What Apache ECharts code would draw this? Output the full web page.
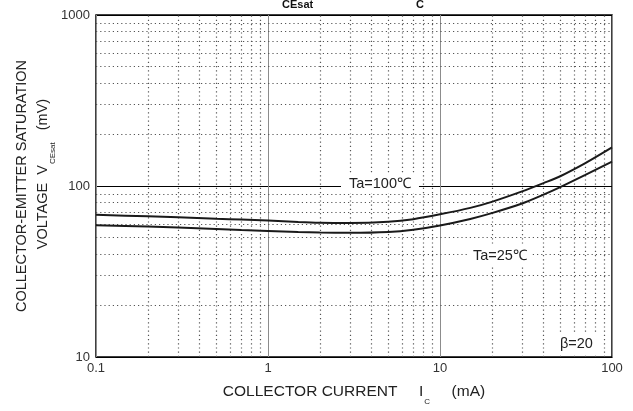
<!DOCTYPE html>
<html>
<head>
<meta charset="utf-8">
<script src="https://cdn.jsdelivr.net/npm/echarts@6/dist/echarts.min.js"></script>
<style>
  html, body { margin: 0; padding: 0; background: #fff; }
  #chart { width: 633px; height: 411px; }
</style>
</head>
<body>
<div id="chart"></div>
<script>
// Collector current (mA) sample points along both curves
const currentMA = [0.1, 0.2, 0.3, 0.5, 0.7, 1, 1.5, 2, 3, 5, 7, 10, 15, 20, 30, 40, 50, 70, 100];
// VCE(sat) in mV, Ta = 100 degC
const vceSat100 = [67.8, 66.5, 65.7, 64.4, 63.6, 62.8, 61.6, 61, 60.8, 61.8, 64, 68.3, 74.5, 80.8, 93, 104, 114, 136, 168];
// VCE(sat) in mV, Ta = 25 degC
const vceSat25 = [59, 57.9, 57.2, 56.1, 55.3, 54.6, 53.8, 53.4, 53.2, 53.8, 55.5, 58.8, 64.2, 69.4, 79, 89, 98.5, 116, 139];

// Decade tick labels
const xTickLabels = ['0.1', '1', '10', '100'];
const yTickLabels = ['10', '100', '1000'];

// Minor grid positions inside each decade
const minorCurrents = [0.2, 0.3, 0.4, 0.5, 0.6, 0.7, 0.8, 0.9, 2, 3, 4, 5, 6, 7, 8, 9, 20, 30, 40, 50, 60, 70, 80, 90];
const minorVoltages = [20, 30, 40, 50, 60, 70, 80, 90, 200, 300, 400, 500, 600, 700, 800, 900];

const FONT = '"Liberation Sans", Arial, Helvetica, sans-serif';

const chart = echarts.init(document.getElementById('chart'), null, { renderer: 'canvas' });

function pairs(ys) { return currentMA.map((x, i) => [x, ys[i]]); }

const subStyle = { fontSize: 8, fontFamily: FONT, color: '#222', fill: '#222', verticalAlign: 'bottom', lineHeight: 8, padding: [0, 0, -6, 1] };

const option = {
  animation: false,
  backgroundColor: '#fff',
  textStyle: { fontFamily: FONT },
  grid: {
    left: 96, right: 21, top: 15, bottom: 42,
    show: true, borderColor: '#000', borderWidth: 1.5, backgroundColor: 'transparent'
  },
  xAxis: {
    type: 'log', logBase: 10, min: 0.1, max: 100,
    axisLine: { show: false },
    axisTick: { show: false },
    axisLabel: {
      color: '#333', fontSize: 13, fontFamily: FONT, margin: 5,
      formatter: v => {
        const s = xTickLabels.find(t => Math.abs(parseFloat(t) - v) < 1e-9 * Math.max(1, v));
        return s || '';
      }
    },
    splitLine: { show: true, lineStyle: { color: '#8c8c8c', width: 1 } },
    name: 'COLLECTOR CURRENT     I{sub|C}     (mA)',
    nameLocation: 'middle', nameGap: 27,
    nameTextStyle: {
      color: '#222', fontSize: 15.5, fontFamily: FONT,
      rich: { sub: subStyle }
    }
  },
  yAxis: {
    type: 'log', logBase: 10, min: 10, max: 1000,
    axisLine: { show: false },
    axisTick: { show: false },
    axisLabel: {
      color: '#333', fontSize: 13, fontFamily: FONT, margin: 6,
      formatter: v => {
        const s = yTickLabels.find(t => Math.abs(parseFloat(t) - v) < 1e-9 * v);
        return s || '';
      }
    },
    splitLine: { show: true, lineStyle: { color: '#000', width: 1 } }
  },
  series: [
    {
      // minor (2..9) grid inside every decade
      type: 'line',
      data: [[0.1, 10]],
      showSymbol: false,
      silent: true,
      lineStyle: { opacity: 0 },
      z: 1,
      markLine: {
        silent: true,
        symbol: ['none', 'none'],
        label: { show: false },
        animation: false,
        data: [
          ...minorCurrents.map(v => ({ xAxis: v, lineStyle: { type: [1.2, 3], color: '#555', width: 1.2 } })),
          ...minorVoltages.map(v => ({ yAxis: v, lineStyle: { type: [1.2, 3], color: '#555', width: 1.2 } }))
        ]
      }
    },
    {
      name: 'Ta=100℃',
      type: 'line',
      data: pairs(vceSat100),
      smooth: 0.3,
      showSymbol: false,
      lineStyle: { color: '#1a1a1a', width: 2 },
      z: 5
    },
    {
      name: 'Ta=25℃',
      type: 'line',
      data: pairs(vceSat25),
      smooth: 0.3,
      showSymbol: false,
      lineStyle: { color: '#1a1a1a', width: 2 },
      z: 5
    }
  ],
  graphic: [
    // chart heading (only its lower part falls inside the page)
    { type: 'text', left: 268, top: -16, z: 100,
      style: { text: 'V', font: 'bold 18px ' + FONT, fill: '#111' } },
    { type: 'text', left: 282, top: -1, z: 100,
      style: { text: 'CEsat', font: 'bold 11px ' + FONT, fill: '#111' } },
    { type: 'text', left: 410, top: -16, z: 100,
      style: { text: 'I', font: 'bold 18px ' + FONT, fill: '#111' } },
    { type: 'text', left: 416, top: -1, z: 100,
      style: { text: 'C', font: 'bold 11px ' + FONT, fill: '#111' } },

    // y axis title, two rotated lines
    { type: 'text', x: 22, y: 186, rotation: Math.PI / 2, z: 100,
      style: { text: 'COLLECTOR-EMITTER SATURATION', font: '14.5px ' + FONT, fill: '#222',
               textAlign: 'center', textVerticalAlign: 'middle' } },
    { type: 'text', x: 43, y: 174, rotation: Math.PI / 2, z: 100,
      style: {
        text: 'VOLTAGE  V{sub|CEsat}   (mV)', font: '14.5px ' + FONT, fill: '#222',
        textAlign: 'center', textVerticalAlign: 'middle',
        rich: { sub: subStyle }
      } },

    // curve annotations
    { type: 'text', left: 341, top: 174, z: 100,
      style: { text: 'Ta=100℃', font: '14.5px ' + FONT, fill: '#222', backgroundColor: '#fff', padding: [2, 8, 2, 8] } },
    { type: 'text', left: 468, top: 246, z: 100,
      style: { text: 'Ta=25℃', font: '14.5px ' + FONT, fill: '#222', backgroundColor: '#fff', padding: [2, 5, 2, 5] } },
    { type: 'text', left: 556, top: 334, z: 100,
      style: { text: 'β=20', font: '14.5px ' + FONT, fill: '#222', backgroundColor: '#fff', padding: [2, 4, 2, 4] } }
  ]
};

chart.setOption(option);
</script>
</body>
</html>
